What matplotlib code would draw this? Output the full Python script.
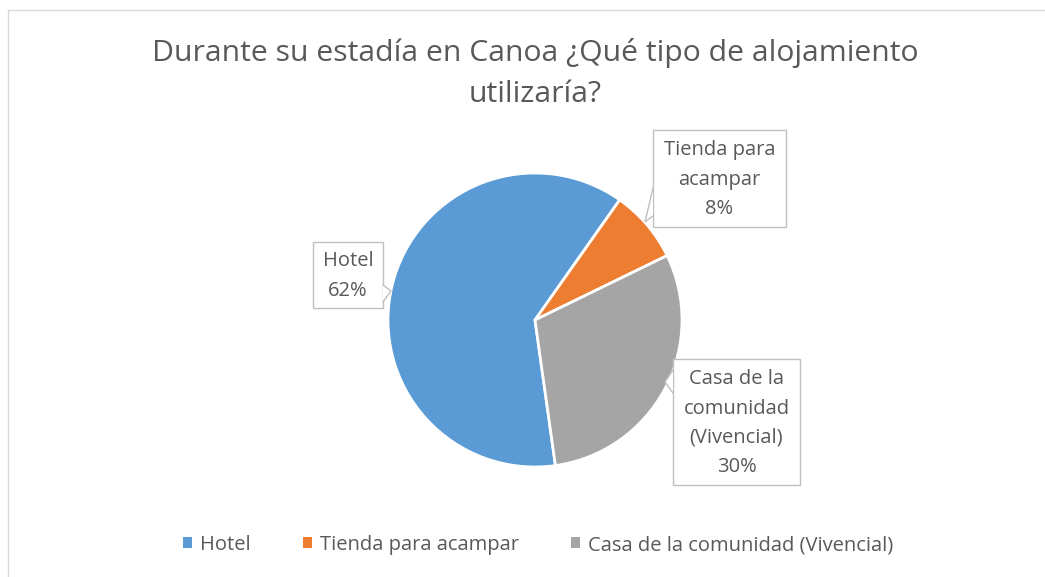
import matplotlib.pyplot as plt
from matplotlib.patches import Rectangle, Patch, Polygon

categorias = ['Hotel', 'Tienda para acampar', 'Casa de la comunidad (Vivencial)']
etiquetas = ['Hotel\n62%', 'Tienda para\nacampar\n8%', 'Casa de la\ncomunidad\n(Vivencial)\n30%']
valores = [62, 8, 30]
colores = ['#5B9BD5', '#ED7D31', '#A5A5A5']

plt.rcParams['font.family'] = ['Open Sans', 'DejaVu Sans']
gris = '#595959'
borde = '#BFBFBF'

W, H = 1045, 577
fig = plt.figure(figsize=(W / 100, H / 100), dpi=100)

# borde del grafico
fig.patches.append(Rectangle((8 / W, -0.1), 1.2, (H - 10) / H + 0.1, transform=fig.transFigure,
                             fill=False, ec='#D9D9D9', lw=1))

fig.text(535 / W, 1 - 53 / H, 'Durante su estadía en Canoa ¿Qué tipo de alojamiento',
         ha='center', va='center', fontsize=21.7, color=gris)
fig.text(535 / W, 1 - 95 / H, 'utilizaría?', ha='center', va='center', fontsize=21.7, color=gris)

cx, cy, r = 535, 320, 147
ax = fig.add_axes([(cx - r) / W, (H - cy - r) / H, 2 * r / W, 2 * r / H])
ax.pie(valores, colors=colores, startangle=-82, counterclock=False, radius=1,
       wedgeprops=dict(edgecolor='white', linewidth=2))
ax.set_xlim(-1, 1)
ax.set_ylim(-1, 1)
ax.axis('off')

# capa en pixeles para las etiquetas tipo globo
ov = fig.add_axes([0, 0, 1, 1])
ov.set_xlim(0, W)
ov.set_ylim(H, 0)
ov.axis('off')

# (x0, y0, x1, y1) de la caja, y el piquito: punto a, punta, punto b
cajas = [
    ((313, 242, 383, 308), [(383, 285), (391, 291), (383, 302)]),
    ((653, 130, 786, 227), [(653, 188), (645, 222), (653, 216)]),
    ((673, 359, 800, 485), [(673, 370), (665, 382), (673, 393)]),
]
for txt, (b, pico) in zip(etiquetas, cajas):
    ov.add_patch(Rectangle((b[0], b[1]), b[2] - b[0], b[3] - b[1], fc='white', ec=borde, lw=1, zorder=2))
    ov.add_patch(Polygon(pico, closed=True, fc='white', ec='none', zorder=3))
    ov.plot([p[0] for p in pico], [p[1] for p in pico], color=borde, lw=1, zorder=3)
    ov.text((b[0] + b[2]) / 2, (b[1] + b[3]) / 2 + 1, txt, ha='center', va='center', fontsize=14.5,
            color=gris, linespacing=1.6, zorder=4)

handles = [Patch(facecolor=c, edgecolor='none') for c in colores]
fig.legend(handles, categorias, loc='center', bbox_to_anchor=(538 / W, 1 - 545 / H), ncol=3,
           frameon=False, fontsize=14.5, labelcolor=gris, handlelength=0.45, handleheight=0.45,
           handletextpad=0.4, columnspacing=2.6)

fig.savefig('out.png', dpi=100, facecolor='white')
